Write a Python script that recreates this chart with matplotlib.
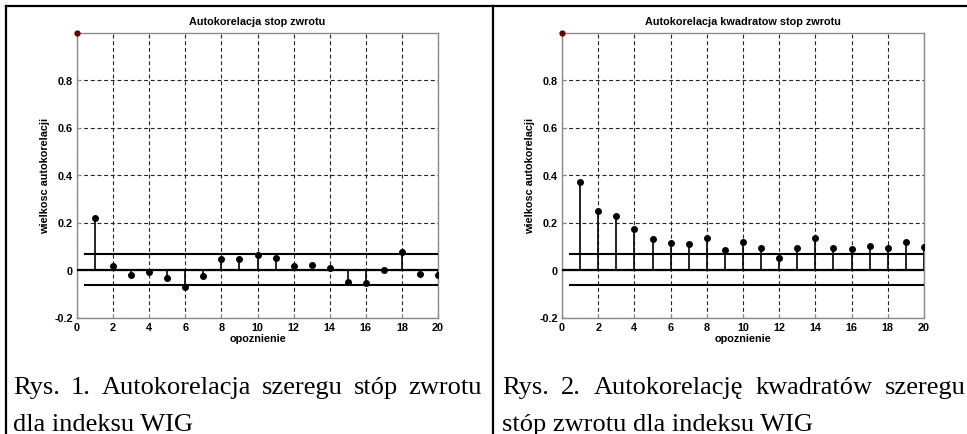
import matplotlib
matplotlib.use("Agg")
import matplotlib.pyplot as plt
from matplotlib import font_manager
from matplotlib.lines import Line2D

# ---- data ----
lags = list(range(0, 21))
acf_returns = [1.0, 0.218, 0.018, -0.023, -0.009, -0.034, -0.071, -0.027, 0.045, 0.045,
               0.062, 0.050, 0.017, 0.020, 0.009, -0.052, -0.055, 0.0, 0.077, -0.016, -0.023]
acf_squares = [1.0, 0.370, 0.250, 0.228, 0.174, 0.129, 0.112, 0.108, 0.136, 0.084,
               0.119, 0.091, 0.052, 0.091, 0.136, 0.091, 0.088, 0.101, 0.094, 0.119, 0.098]
upper_bound = 0.067
lower_bound = -0.064
bound_start = 0.45
titles = ["Autokorelacja stop zwrotu", "Autokorelacja kwadratow stop zwrotu"]
xlabel = "opoznienie"
ylabel = "wielkosc autokorelacji"
xticks = [0, 2, 4, 6, 8, 10, 12, 14, 16, 18, 20]
yticks = [-0.2, 0, 0.2, 0.4, 0.6, 0.8]
ytick_labels = ["-0.2", "0", "0.2", "0.4", "0.6", "0.8"]
captions = [
    ["Rys. 1. Autokorelacja szeregu stóp zwrotu", "dla indeksu WIG"],
    ["Rys. 2. Autokorelację kwadratów szeregu", "stóp zwrotu dla indeksu WIG"],
]

names = {f.name for f in font_manager.fontManager.ttflist}
axfont = "Liberation Sans Narrow" if "Liberation Sans Narrow" in names else "Liberation Sans"
capfont = "Liberation Serif"

W, H = 967, 435
fig = plt.figure(figsize=(W / 100, H / 100), dpi=100)

def fx(px):
    return px / W

def fy(py):
    return 1 - py / H

axes_px = [(77, 438), (562, 924)]
top_px, bot_px = 33.5, 318.5
series = [acf_returns, acf_squares]
fs = 7.8

for i, (x0, x1) in enumerate(axes_px):
    ax = fig.add_axes([fx(x0), fy(bot_px), fx(x1 - x0), (bot_px - top_px) / H])
    ax.set_xlim(0, 20)
    ax.set_ylim(-0.2, 1.0)
    ax.set_xticks(xticks)
    ax.set_yticks(yticks)
    ax.set_yticklabels(ytick_labels)
    ax.grid(True, color="#222222", linestyle=(0, (3.5, 2.5)), linewidth=0.8)
    ax.set_axisbelow(True)
    for sp in ax.spines.values():
        sp.set_color("#8a8a8a")
        sp.set_linewidth(1.0)
    ax.tick_params(direction="in", length=3, color="#8a8a8a", pad=3,
                   labelsize=fs)
    for lab in ax.get_xticklabels() + ax.get_yticklabels():
        lab.set_fontfamily(axfont)
        lab.set_fontweight("bold")
    vals = series[i]
    ax.vlines(lags[1:], 0, vals[1:], colors="black", linewidth=1.2, zorder=3)
    ax.plot(lags[1:], vals[1:], "o", color="black", markersize=4, zorder=4)
    ax.plot([lags[0]], [vals[0]], "o", color="#6a0000", markersize=3.5, zorder=5,
            clip_on=False)
    ax.plot([0, 20], [0, 0], color="black", linewidth=1.6, zorder=3)
    ax.plot([bound_start, 20], [upper_bound, upper_bound], color="black", linewidth=1.5, zorder=3)
    ax.plot([bound_start, 20], [lower_bound, lower_bound], color="black", linewidth=1.5, zorder=3)
    ax.set_title(titles[i], fontsize=fs, fontweight="bold", family=axfont, pad=6)
    ax.set_xlabel(xlabel, fontsize=fs, fontweight="bold", family=axfont, labelpad=1)
    ax.set_ylabel(ylabel, fontsize=fs, fontweight="bold", family=axfont, labelpad=3)

# frame lines
lw_frame = 1.6
fig.add_artist(Line2D([fx(6), 1.0], [fy(6.5), fy(6.5)], color="black", linewidth=lw_frame))
fig.add_artist(Line2D([fx(6.3), fx(6.3)], [fy(6.5), 0.0], color="black", linewidth=lw_frame))
fig.add_artist(Line2D([fx(492.7), fx(492.7)], [fy(6.5), 0.0], color="black", linewidth=lw_frame))

# captions (first line justified)
renderer = fig.canvas.get_renderer()
cap_size = 19
cap_spans = [(13, 482), (502, 966)]
line_y = [394, 431]
for (xl, xr), lines in zip(cap_spans, captions):
    words = lines[0].split(" ")
    texts = [fig.text(0, fy(line_y[0]), w, fontsize=cap_size, family=capfont,
                      va="baseline", ha="left") for w in words]
    widths = [t.get_window_extent(renderer).width for t in texts]
    gap = ((xr - xl) - sum(widths)) / (len(words) - 1)
    x = xl
    for t, w in zip(texts, widths):
        t.set_x(fx(x))
        x += w + gap
    fig.text(fx(xl), fy(line_y[1]), lines[1], fontsize=cap_size, family=capfont,
             va="baseline", ha="left")

fig.savefig("out.png", dpi=100)
